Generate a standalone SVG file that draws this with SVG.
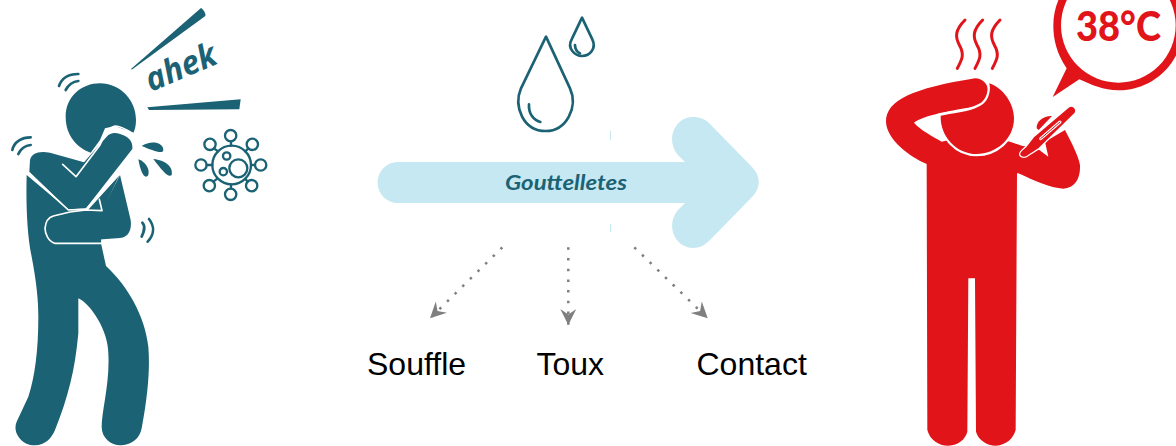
<svg xmlns="http://www.w3.org/2000/svg" width="1176" height="446" viewBox="0 0 1176 446">
<defs>
<style>
.t{fill:#1b6274}
.ts{fill:none;stroke:#1b6274;stroke-linecap:round;stroke-linejoin:round}
.r{fill:#e1141a}
.rs{fill:none;stroke:#e1141a;stroke-linecap:round;stroke-linejoin:round}
.w{fill:none;stroke:#fff;stroke-linecap:round;stroke-linejoin:round}
.lab{font-family:"Liberation Sans",Arial,sans-serif;font-size:32px;fill:#000}
.dot{fill:none;stroke:#7f7f7f;stroke-width:2.5;stroke-dasharray:2.5 8.2}
</style>
<marker id="stealth" markerUnits="userSpaceOnUse" markerWidth="18" markerHeight="18" refX="16" refY="8" orient="auto">
<path d="M16,8 L0,0 L5.500,8 L0,16Z" fill="#7f7f7f"/>
</marker>
</defs>
<rect width="1176" height="446" fill="#fff"/>

<g id="cough-figure" transform="scale(.33333)">
<path class="t" d="M80,525 C78,600 80,700 95,770 C110,850 115,900 115,950 C115,1050 105,1130 85,1190 L50,1265 C35,1300 70,1338 105,1336 C135,1335 155,1315 165,1290 C205,1190 225,1110 235,1000 L235,895 C270,910 325,990 325,1060 C330,1150 305,1230 305,1280 C305,1315 335,1338 365,1336 C395,1335 420,1315 425,1285 C445,1180 450,1100 445,1040 C435,950 385,860 318,798 L303,730 L306,632 L205,630 Z"/>
<path class="t" d="M262,632 L358,526 L306,636Z"/>
<path class="t" d="M160,648 L305,632 L360,525 L392,660 C396,690 385,712 360,714 L165,728 C145,725 135,700 135,685 C137,665 145,652 160,648Z"/>
<path class="w" stroke-width="5" d="M298,598 L306,632 L258,630 L210,636 L160,648 C145,652 137,665 135,685 C135,700 145,725 165,730 L305,730"/>
<path class="t" d="M272,458 C235,445 197,410 197,350 C197,290 245,250 300,250 C360,250 408,300 408,360 C408,375 405,390 400,398 L345,378 L315,385 L300,420Z"/>
<path class="t" d="M88,515 L90,480 C95,460 115,452 150,458 L252,487 L320,410 C330,398 345,396 360,402 C385,408 400,425 397,447 L258,625 L205,628 Z"/>
<path class="w" stroke-width="5" d="M188,493 L228,530 L300,435 C312,410 318,385 345,378 C365,378 385,392 400,402"/>
<path class="w" stroke-width="5" d="M85,520 L205,630 L258,628 L360,520"/>
<path class="t" d="M392,208 L603,24 C610,28 618,40 616,48 L397,208Z"/>
<path class="t" d="M442,322 L722,298 L718,328 L447,330Z"/>
<g class="ts" stroke-width="8">
<path d="M177,258 C185,235 205,222 235,222"/><path d="M197,270 C205,255 218,245 235,243"/>
<path d="M37,450 C42,425 65,412 92,412"/><path d="M55,462 C62,447 75,437 92,435"/>
<path d="M427,668 C438,680 432,695 425,710"/><path d="M447,657 C465,680 462,705 443,725"/>
</g>
<path class="t" d="M425,438 C450,420 490,425 490,450 C490,465 455,450 425,438Z"/>
<path class="t" d="M460,477 C495,480 520,500 515,525 C505,535 485,510 460,477Z"/>
<path class="t" d="M415,478 C435,485 450,505 445,525 C435,540 422,520 415,478Z"/>
</g>
<text id="ahek" transform="translate(151,92) rotate(-23)" font-family="'Open Sans',sans-serif" font-style="italic" font-weight="700" font-size="33" fill="#1b6274" textLength="74" lengthAdjust="spacingAndGlyphs">ahek</text>

<g id="virus" transform="scale(.33333)">
<g class="ts" stroke-width="7">
<circle cx="695" cy="495" r="58"/><circle cx="715" cy="505" r="27"/><circle cx="680" cy="468" r="11"/><circle cx="670" cy="515" r="11"/>
<circle cx="692" cy="407" r="17"/><circle cx="757" cy="433" r="17"/><circle cx="782" cy="495" r="17"/><circle cx="755" cy="557" r="17"/><circle cx="692" cy="583" r="17"/><circle cx="628" cy="557" r="17"/><circle cx="603" cy="495" r="17"/><circle cx="630" cy="433" r="17"/>
<path d="M693,424V437M745,445L736,454M765,495H753M743,545L736,536M693,553V566M640,545L652,536M620,495H637M642,445L654,454"/>
</g>
</g>

<g id="drops" transform="translate(360,0) scale(.33333)">
<g class="ts" stroke-width="8">
<path d="M558,110 L483,265 C460,320 490,393 557,393 C620,393 655,320 630,265 Z"/>
<path d="M507,313 C505,340 520,360 541,366"/>
<path d="M666,53 L635,118 C620,145 645,168 666,168 C690,168 710,145 697,118Z"/>
<path d="M645,135 C645,148 650,155 660,160"/>
</g>
</g>

<g id="arrow">
<path fill="#c5e8f2" d="M398,162 H685 L678,155 C665,140 675,117 693,117 C700,117 705,119 710,124 L752,167 C761,176 761,188 752,197 L710,240 C705,245 700,248 693,248 C675,248 665,225 678,210 L685,203 H398 A20.5,20.5 0 0 1 398,162Z"/>
<path d="M610.5,131V140M610.5,224V232" stroke="#c5e8f2" stroke-width="1" fill="none"/>
<text x="566" y="189.500" text-anchor="middle" font-family="Lato,'Open Sans',sans-serif" font-style="italic" font-weight="700" font-size="20" fill="#1b6274" textLength="122" lengthAdjust="spacingAndGlyphs">Gouttelletes</text>
</g>

<g id="connectors">
<path class="dot" d="M502.300,247.300 L430,318.300" marker-end="url(#stealth)"/>
<path class="dot" d="M568.300,247.300 V325" marker-end="url(#stealth)"/>
<path class="dot" d="M634.300,247.300 L707.700,318.300" marker-end="url(#stealth)"/>
</g>

<g id="labels">
<text id="souffle" class="lab" x="367" y="375">Souffle</text>
<text id="toux" class="lab" x="536.500" y="375">Toux</text>
<text id="contact" class="lab" x="696.500" y="375">Contact</text>
</g>

<g id="fever-figure" transform="translate(870,0) scale(.33333)">
<g class="rs" stroke-width="9">
<path d="M285,60 C255,90 255,110 268,135 C285,165 275,180 262,205"/>
<path d="M338,60 C308,90 308,110 321,135 C338,165 328,180 315,205"/>
<path d="M390,60 C360,90 360,110 373,135 C390,165 380,180 367,205"/>
</g>
<path class="r" d="M170,492 C120,470 50,420 48,365 C48,300 130,265 315,235 C340,235 355,255 355,275 C350,300 335,315 315,320 C250,330 160,345 132,368 C150,390 190,410 215,425 L320,400 L420,425 L458,438 L495,440 L535,470 L525,425 L585,390 C600,420 625,465 630,495 C632,535 615,565 580,566 C540,565 490,540 445,520 L441,520 L437,1290 C430,1315 410,1335 378,1337 C350,1337 325,1320 318,1295 L315,835 L295,835 L292,1295 C285,1320 265,1335 235,1337 C205,1337 180,1320 172,1290Z"/>
<path class="r" stroke="#fff" stroke-width="14" paint-order="stroke" d="M358,250 C400,265 432,310 432,355 C432,420 375,462 320,462 C260,462 210,410 212,347 C240,340 300,335 325,320 C350,312 365,280 358,250Z"/>
<path class="r" d="M500,385 C498,365 520,347 546,348 L506,390Z"/>
<path class="r" stroke="#fff" stroke-width="8" paint-order="stroke" stroke-linejoin="round" d="M598,322 C608,316 620,328 614,338 L505,445 L475,464 C468,472 455,472 451,464 C449,456 462,448 470,440 L492,412Z"/>
<path class="w" stroke-width="9" d="M512,416 L570,366"/>
<path class="rs" stroke-width="3" d="M512,416 L570,366"/>
</g>

<g id="bubble" transform="translate(870,0) scale(.33333)">
<path class="r" d="M590,205 C560,160 550,120 550,76 C550,-32 637,-119 745,-119 C853,-119 940,-32 940,76 C940,184 853,271 745,271 C700,271 665,255 628,238 L548,291Z"/>
<circle cx="745" cy="76" r="172" fill="#fff"/>
</g>
<text id="temp" x="1076" y="41" font-family="Lato,'Open Sans',sans-serif" font-weight="900" font-size="41" fill="#e1141a" textLength="85" lengthAdjust="spacingAndGlyphs">38°C</text>
</svg>
